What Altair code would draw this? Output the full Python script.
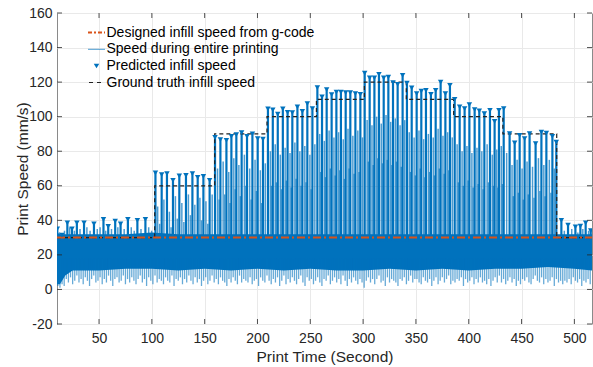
import altair as alt
import numpy as np
import pandas as pd

T_MIN, T_MAX = 10.2, 516.7
FONT = "Liberation Sans"
BLUE = "#0072BD"
ORANGE = "#D95319"
INK = "#262626"

# ---- designed infill speed taken from the g-code ----
designed_t = [T_MIN, T_MAX]
designed_v = [30, 30]

# ---- ground-truth infill speed (stairs) ----
truth_t = [T_MIN, 102.7, 159.5, 209.0, 255.8, 301.2, 340.9, 385.7, 432.3, 483.3, T_MAX]
truth_v = [30, 60, 90, 100, 110, 120, 110, 100, 90, 30, 30]

# ---- predicted infill speed at each detected infill peak ----
peak_t = [10.5, 14.9, 20.0, 24.4, 29.0, 35.8, 45.2, 54.2, 58.7, 65.3, 70.4, 77.3, 86.3, 93.9,
          103.4, 109.3, 114.3, 120.0, 126.0, 132.3, 138.4, 143.4, 148.8, 154.7,
          159.8, 164.9, 170.6, 175.3, 180.0, 185.0, 190.1, 195.2, 200.2, 205.2,
          209.9, 214.5, 219.2, 224.0, 228.5, 233.0, 237.8, 242.5, 247.2, 252.0,
          256.7, 261.1, 265.5, 270.2, 274.7, 279.0, 283.5, 287.9, 292.7, 297.4,
          301.5, 306.2, 310.7, 315.0, 319.5, 323.9, 328.3, 332.7, 337.4,
          341.5, 346.0, 350.7, 355.1, 359.5, 364.2, 368.7, 373.4, 377.9, 382.2,
          386.7, 391.4, 396.1, 400.6, 405.6, 410.0, 414.8, 420.1, 424.5, 428.6, 433.1,
          438.7, 443.5, 448.2, 452.9, 457.6, 463.3, 468.8, 473.5, 479.2, 482.9,
          487.7, 494.0, 501.0, 505.7, 510.7, 515.5]
peak_v = [35.0, 31.5, 38.5, 35.0, 38.5, 38.5, 38.0, 40.5, 36.5, 39.5, 38.0, 40.5, 40.0, 40.5,
          67.4, 66.5, 67.0, 63.2, 65.7, 66.0, 67.0, 64.8, 65.5, 63.2,
          88.0, 86.7, 86.3, 88.6, 89.6, 90.8, 88.6, 90.0, 87.3, 87.0,
          104.5, 104.0, 101.5, 104.5, 102.5, 102.3, 105.6, 103.1, 107.5, 104.6,
          116.8, 111.4, 115.6, 112.7, 114.2, 114.2, 113.9, 113.9, 113.3, 112.9,
          125.2, 122.5, 122.5, 124.5, 122.5, 122.9, 119.7, 118.7, 123.9,
          119.4, 116.6, 113.3, 114.8, 115.2, 112.9, 115.2, 120.0, 113.3, 118.1,
          110.0, 105.6, 104.6, 107.0, 104.1, 103.3, 101.8, 103.7, 97.3, 103.7, 104.6,
          90.2, 84.8, 89.2, 87.3, 90.2, 84.4, 91.1, 90.5, 88.6, 85.3,
          40.0, 37.2, 36.2, 36.6, 38.5, 34.0]

# ---- secondary speed spikes recorded between infill peaks ----
spike_t = [12.5, 17.3, 22.2, 26.7, 32.0, 38.5, 41.5, 48.3, 51.0, 56.3, 61.8, 67.8, 73.8, 80.5, 83.3, 89.7, 97.0, 99.8,
           105.5, 107.4, 111.4, 116.6, 118.2, 122.3, 124.1, 128.4, 130.3, 134.6, 136.5, 140.7, 145.5, 147.0, 151.2, 153.0, 157.1,
           162.2, 163.7, 167.5, 169.0, 172.8, 174.0, 177.6, 178.9, 182.4, 183.8, 187.6, 189.0, 192.6, 194.0, 197.7, 199.0, 202.7, 204.0, 207.4,
           212.2, 213.4, 216.8, 218.0, 221.6, 222.8, 226.2, 227.4, 230.8, 232.0, 235.4, 236.6, 240.1, 241.3, 244.8, 246.0, 249.6, 250.8, 254.3,
           258.9, 260.0, 263.3, 264.4, 267.8, 269.0, 272.4, 273.6, 276.8, 278.0, 281.2, 282.4, 285.7, 286.8, 290.3, 291.5, 295.0, 296.2, 299.4,
           303.8, 305.0, 308.4, 309.6, 312.8, 314.0, 317.2, 318.4, 321.7, 322.9, 326.1, 327.3, 330.5, 331.7, 335.0, 336.2, 339.4,
           343.7, 344.9, 348.3, 349.5, 352.9, 354.1, 357.3, 358.5, 361.8, 363.0, 366.4, 367.6, 371.0, 372.2, 375.6, 376.8, 380.0, 381.2, 384.4,
           389.0, 390.2, 393.7, 394.9, 398.3, 399.5, 403.0, 404.2, 407.8, 409.0, 412.4, 413.6, 417.4, 418.7, 422.3, 423.5, 426.5, 427.6, 430.8, 432.0, 435.9,
           441.0, 442.2, 445.8, 447.0, 450.5, 451.7, 455.2, 456.4, 460.4, 461.8, 466.0, 467.4, 471.1, 472.3, 476.3, 477.8, 481.0,
           490.5, 497.5, 503.3, 508.0, 513.5]
spike_v = [33, 34, 36, 34, 35, 36, 34, 35, 36, 34, 35, 36, 35, 36, 34, 35, 36, 34,
           48, 38, 52, 45, 36, 54, 41, 50, 39, 55, 43, 49, 53, 40, 51, 38, 55,
           70, 52, 74, 55, 68, 50, 76, 58, 72, 54, 78, 60, 70, 52, 75, 57, 69, 50, 73,
           80, 60, 84, 62, 78, 58, 82, 63, 79, 59, 85, 64, 80, 60, 83, 62, 78, 58, 84,
           90, 68, 86, 65, 92, 70, 88, 66, 91, 69, 87, 64, 93, 70, 89, 67, 92, 68, 88,
           98, 74, 95, 72, 100, 76, 96, 73, 101, 75, 97, 72, 99, 74, 95, 71, 98,
           91, 68, 88, 66, 92, 70, 87, 65, 90, 68, 88, 66, 93, 70, 89, 67, 91, 69, 88,
           84, 62, 80, 60, 83, 63, 79, 59, 82, 61, 80, 58, 84, 62, 78, 60, 81, 59, 83, 61, 79,
           72, 54, 75, 56, 70, 52, 74, 55, 71, 53, 76, 57, 72, 54, 75, 56, 70,
           34, 35, 33, 35, 34]

# ---- dense part of the speed trace: core band and the lowest dips ----
band_t = [10.2, 13, 18, 25, 50, 75, 100, 125, 150, 175, 200, 225, 250, 275, 300, 325, 350, 375, 400, 425, 450, 475, 500, 516.7]
band_lo = [3, 3, 8, 11, 11, 12, 12, 11, 12, 11, 12, 11, 12, 11, 11, 12, 11, 12, 11, 12, 12, 13, 12, 11]
band_hi = [33, 32, 32, 32, 32, 32, 33, 32, 32, 32, 32, 32, 32, 32, 32, 32, 32, 32, 32, 32, 32, 32, 32, 32]

dip_v = [2, 1, 3, 2, 6, 4, 7, 3, 5, 8,
         4, 6, 3, 7, 5, 2, 6, 8, 4, 5,
         7, 3, 6, 4, 8, 5, 2, 6, 7, 4,
         5, 8, 3, 6, 4, 7, 5, 3, 6, 8,
         4, 6, 2, 7, 5, 3, 8, 4, 6, 5,
         3, 7, 5, 4, 8, 2, 6, 5, 7, 3,
         6, 4, 8, 5, 3, 7, 4, 6, 2, 5,
         7, 3, 5, 8, 4, 6, 3, 7, 5, 4,
         2, 6, 4, 7, 5, 3, 8, 4, 6, 5,
         4, 7, 3, 5, 6, 2, 7, 5, 4, 8,
         5, 3, 6, 4, 7, 2, 5, 8, 3, 6,
         4, 7, 5, 3, 6, 8, 4, 2, 7, 5,
         6, 3, 5, 7, 4, 2, 6, 5, 8, 3,
         5, 7, 4, 6, 3, 8, 5, 2, 6, 4,
         7, 5, 3, 6, 4, 1, 5, 7, 4, 6,
         3, 6, 8, 4, 5, 2, 7, 4, 6, 5,
         4, 2, 6, 5, 7, 3, 5, 8, 4, 6,
         6, 4, 3, 7, 5, 4, 6, 2, 5, 7,
         3, 5, 7, 4, 6, 8, 3, 5, 4, 6,
         5, 7, 2, 6, 4, 5, 7, 3, 6, 4,
         7, 4, 5, 3, 6, 2, 5, 7, 4, 8,
         4, 6, 3, 5, 7, 4, 6, 2, 5, 3,
         6, 5, 7, 4, 3, 6, 8, 5, 4, 7,
         3, 6, 4, 5, 7, 2, 6, 4, 5, 3,
         5, 4, 6, 3, 7, 5, 4, 6, 2, 5,
         4, 6, 3]
dip_t = np.arange(11, 516, 2)  # trace sampled every 2 s for the dips

x_ticks = [50, 100, 150, 200, 250, 300, 350, 400, 450, 500]
y_ticks = [-20, 0, 20, 40, 60, 80, 100, 120, 140, 160]

legend_labels = ["Designed infill speed from g-code", "Speed during entire printing",
                 "Predicted infill speed", "Ground truth infill speed"]

# ---- shared scales / axes ----
W, H = 535, 311
xscale = alt.Scale(domain=[T_MIN, T_MAX], nice=False, zero=False)
yscale = alt.Scale(domain=[-20, 160], nice=False, zero=False)
xaxis = alt.Axis(values=x_ticks, title="Print Time (Second)", grid=True, tickSize=0,
                 domain=False, labelPadding=7, titlePadding=4)
yaxis = alt.Axis(values=y_ticks, title="Print Speed (mm/s)", grid=True, tickSize=0,
                 domain=False, labelPadding=5, titlePadding=-2,
                 labelExpr="'' + datum.value")


def X(field):
    return alt.X(field, type="quantitative", scale=xscale, axis=xaxis)


def Y(field):
    return alt.Y(field, type="quantitative", scale=yscale, axis=yaxis)


band_df = pd.DataFrame({"t": band_t, "lo": band_lo, "hi": band_hi})
dip_df = pd.DataFrame({"t": dip_t, "v": dip_v, "top": 18})
spike_df = pd.DataFrame({"t": spike_t, "v": spike_v, "base": 28})
peak_df = pd.DataFrame({"t": peak_t, "v": peak_v, "base": 28})
truth_df = pd.DataFrame({"t": truth_t, "v": truth_v})
designed_df = pd.DataFrame({"t": designed_t, "v": designed_v})

band = alt.Chart(band_df).mark_area(color=BLUE, opacity=1, clip=True).encode(
    x=X("t"), y=Y("lo"), y2="hi")

dips = alt.Chart(dip_df).mark_rule(color=BLUE, strokeWidth=1.3, opacity=0.6, clip=True).encode(
    x=X("t"), y=Y("v"), y2="top")

spikes = alt.Chart(spike_df).mark_rule(color=BLUE, strokeWidth=1.5, opacity=0.7, clip=True).encode(
    x=X("t"), y=Y("v"), y2="base")

peak_lines = alt.Chart(peak_df).mark_rule(color=BLUE, strokeWidth=2.2, clip=True).encode(
    x=X("t"), y=Y("v"), y2="base")

truth = alt.Chart(truth_df).mark_line(color="#222222", strokeWidth=1.2, strokeDash=[4, 3],
                                      interpolate="step-after", clip=True).encode(
    x=X("t"), y=Y("v"))

designed = alt.Chart(designed_df).mark_line(color=ORANGE, strokeWidth=2, strokeDash=[8, 3, 2, 3],
                                            clip=True).encode(
    x=X("t"), y=Y("v"))

markers = alt.Chart(peak_df).mark_point(shape="triangle-down", filled=True, color=BLUE,
                                        size=30, opacity=1, clip=True).encode(
    x=X("t"), y=Y("v"))

# inward tick marks on all four sides of the box
xt_df = pd.DataFrame({"t": x_ticks})
yt_df = pd.DataFrame({"v": y_ticks})
tick_style = dict(color=INK, strokeWidth=0.8)
ticks = [
    alt.Chart(xt_df).mark_rule(**tick_style).encode(x=X("t"), y=alt.value(H), y2=alt.value(H - 5)),
    alt.Chart(xt_df).mark_rule(**tick_style).encode(x=X("t"), y=alt.value(0), y2=alt.value(5)),
    alt.Chart(yt_df).mark_rule(**tick_style).encode(y=Y("v"), x=alt.value(0), x2=alt.value(5)),
    alt.Chart(yt_df).mark_rule(**tick_style).encode(y=Y("v"), x=alt.value(W), x2=alt.value(W - 5)),
]

# legend, top-left inside the axes
rows = [19.5, 36.3, 53.0, 69.5]
sym_x0, sym_x1, txt_x = 31, 48, 49.5
legend = []
for label, ry in zip(legend_labels, rows):
    legend.append(alt.Chart(pd.DataFrame({"label": [label]})).mark_text(
        align="left", baseline="middle", font=FONT, fontSize=14, color="#000000").encode(
        text="label:N", x=alt.value(txt_x), y=alt.value(ry)))
one = pd.DataFrame({"k": [0]})
legend.append(alt.Chart(one).mark_rule(color=ORANGE, strokeWidth=2, strokeDash=[4, 2, 2, 2]).encode(
    x=alt.value(sym_x0), x2=alt.value(sym_x1), y=alt.value(rows[0])))
legend.append(alt.Chart(one).mark_rule(color=BLUE, strokeWidth=1, opacity=0.7).encode(
    x=alt.value(sym_x0), x2=alt.value(sym_x1), y=alt.value(rows[1])))
legend.append(alt.Chart(one).mark_point(shape="triangle-down", filled=True, color=BLUE, size=30,
                                        opacity=1).encode(
    x=alt.value((sym_x0 + sym_x1) / 2), y=alt.value(rows[2])))
legend.append(alt.Chart(one).mark_rule(color="#222222", strokeWidth=1.2, strokeDash=[4, 4]).encode(
    x=alt.value(sym_x0 + 1), x2=alt.value(sym_x1), y=alt.value(rows[3])))

chart = alt.layer(band, dips, spikes, peak_lines, truth, designed, markers, *ticks, *legend).properties(
    width=W, height=H,
    autosize=alt.AutoSizeParams(type="none"),
    padding={"left": 57, "top": 13, "right": 1, "bottom": 43},
    background="white",
).configure_view(
    stroke="#8a8a8a", strokeWidth=1
).configure_axis(
    labelFont=FONT, labelFontSize=14, labelColor=INK,
    titleFont=FONT, titleFontSize=15.5, titleFontWeight="normal", titleColor=INK,
    gridColor="#e9e9e9", gridWidth=1,
)

chart.save("out.html", embed_options={"renderer": "svg", "actions": False})
